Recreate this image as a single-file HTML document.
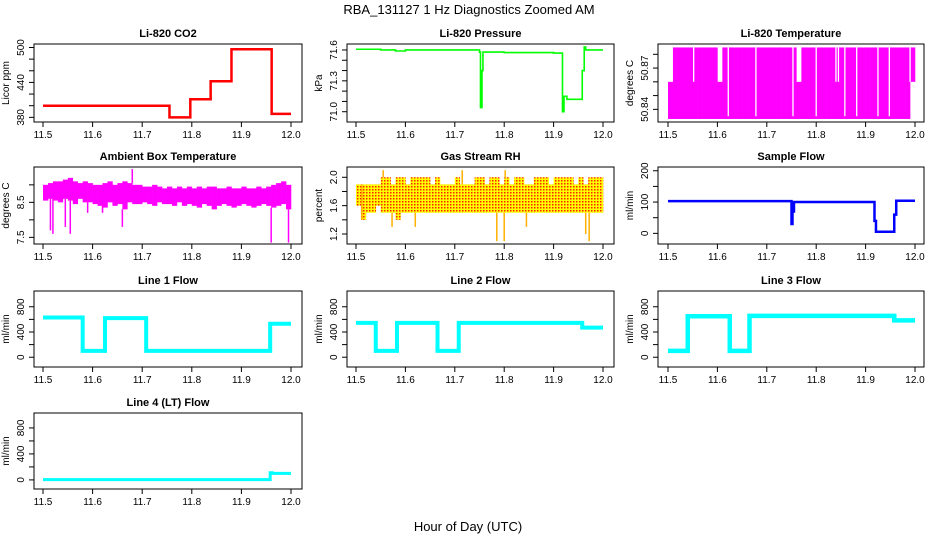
<!DOCTYPE html>
<html><head><meta charset="utf-8"><title>RBA_131127 1 Hz Diagnostics Zoomed AM</title>
<style>
html,body{margin:0;padding:0;background:#fff;}
svg{display:block;font-family:"Liberation Sans",Arial,sans-serif;}
</style></head>
<body>
<svg id="chart" width="936" height="540" viewBox="0 0 936 540" xmlns="http://www.w3.org/2000/svg">
<defs>
<pattern id="rhdots" width="3" height="3" patternUnits="userSpaceOnUse">
<rect width="3" height="3" fill="#ffff00"/>
<rect x="0" y="0" width="1.5" height="1.5" fill="#ff2000"/>
</pattern>
</defs>
<text x="469" y="14" font-size="13" text-anchor="middle">RBA_131127  1 Hz Diagnostics Zoomed AM</text>
<text x="468" y="531" font-size="13" text-anchor="middle">Hour of Day (UTC)</text>
</svg>
<script>
// ---------------- DATA ----------------
const xTicks = [11.5, 11.6, 11.7, 11.8, 11.9, 12.0];
const xTickLabels = ["11.5", "11.6", "11.7", "11.8", "11.9", "12.0"];

// Li-820 CO2 (step segments)
const co2Times = [11.5, 11.755, 11.797, 11.838, 11.880, 11.961, 12.0];
const co2Values = [400, 380, 411, 442, 497, 386];

// Li-820 Pressure (step segments)
const presTimes = [11.5, 11.55, 11.58, 11.6, 11.68, 11.75, 11.752, 11.755, 11.757, 11.76, 11.80, 11.90, 11.918, 11.921, 11.927, 11.958, 11.962, 11.965, 12.0];
const presValues = [71.607, 71.60, 71.59, 71.60, 71.60, 71.58, 71.04, 71.40, 71.58, 71.58, 71.575, 71.57, 71.00, 71.15, 71.12, 71.40, 71.63, 71.60];

// Li-820 Temperature (bins)
const ltHi = [50.86,50.885,50.885,50.885,50.885,50.885,50.885,50.885,50.885,50.885,50.86,50.885,50.885,50.885,50.885,50.885,50.885,50.885,50.885,50.885,50.885,50.885,50.885,50.885,50.885,50.885,50.86,50.885,50.885,50.885,50.885,50.885,50.885,50.885,50.885,50.885,50.885,50.885,50.885,50.885,50.885,50.885,50.885,50.885,50.885,50.885,50.885,50.885,50.885,50.885];
const ltLo = [50.833,50.833,50.833,50.833,50.833,50.833,50.833,50.833,50.833,50.833,50.833,50.833,50.833,50.833,50.833,50.833,50.833,50.833,50.833,50.833,50.833,50.833,50.833,50.833,50.833,50.833,50.833,50.833,50.833,50.833,50.833,50.833,50.833,50.833,50.833,50.833,50.833,50.833,50.833,50.833,50.833,50.833,50.833,50.833,50.833,50.833,50.833,50.833,50.833,50.86];
const ltGapTimes = [11.505,11.552,11.56,11.565,11.575,11.59,11.60,11.622,11.635,11.645,11.66,11.678,11.69,11.70,11.72,11.735,11.753,11.762,11.77,11.785,11.80,11.805,11.815,11.828,11.84,11.845,11.858,11.87,11.882,11.895,11.91,11.925,11.935,11.948,11.958,11.965,11.975,11.99];
const ltGapTop = [50.885,50.86,50.885,50.885,50.885,50.885,50.885,50.835,50.885,50.885,50.885,50.835,50.885,50.885,50.885,50.885,50.835,50.86,50.885,50.885,50.835,50.885,50.885,50.885,50.86,50.86,50.835,50.885,50.835,50.885,50.885,50.835,50.885,50.835,50.885,50.885,50.885,50.86];

// Ambient Box Temperature (bins)
const ambHi = [9.0,9.05,9.1,9.1,9.15,9.2,9.1,9.05,9.1,9.05,9.0,9.0,9.05,9.1,9.0,9.05,9.1,9.05,9.0,9.0,8.95,8.95,9.0,8.95,8.9,8.95,8.9,8.95,8.9,8.95,8.9,8.95,8.9,8.95,8.95,8.9,8.9,8.95,8.9,8.9,8.95,8.9,8.9,8.95,8.9,8.95,9.0,9.05,9.1,9.0];
const ambLo = [8.55,8.6,8.55,8.5,8.6,8.55,8.45,8.6,8.5,8.5,8.45,8.4,8.35,8.5,8.4,8.45,8.3,8.5,8.45,8.45,8.5,8.45,8.4,8.5,8.45,8.45,8.4,8.5,8.4,8.45,8.4,8.35,8.45,8.4,8.3,8.4,8.45,8.4,8.35,8.4,8.45,8.4,8.35,8.4,8.45,8.4,8.35,8.4,8.45,8.3];
const ambSpikeTimes = [11.515, 11.52, 11.545, 11.555, 11.59, 11.62, 11.66, 11.68, 11.96, 11.995];
const ambSpikeValues = [7.7, 7.6, 7.8, 7.6, 8.2, 8.2, 7.8, 9.45, 7.35, 7.35];

// Gas Stream RH (bins)
const rhHi = [1.9,1.9,1.9,1.9,1.9,2.0,2.0,1.9,2.0,2.0,1.9,2.0,2.0,2.0,2.0,1.9,2.0,1.9,1.9,1.9,2.0,1.9,1.9,1.9,2.0,2.0,1.9,2.0,2.0,1.9,2.0,1.9,2.0,2.0,1.9,1.9,2.0,2.0,2.0,1.9,2.0,2.0,2.0,2.0,1.9,2.0,1.9,2.0,2.0,2.0];
const rhLo = [1.6,1.4,1.5,1.5,1.6,1.5,1.5,1.5,1.4,1.5,1.5,1.5,1.5,1.5,1.5,1.5,1.5,1.5,1.5,1.5,1.5,1.5,1.5,1.5,1.5,1.5,1.5,1.5,1.5,1.5,1.5,1.5,1.5,1.5,1.5,1.5,1.5,1.5,1.5,1.5,1.5,1.5,1.5,1.5,1.5,1.5,1.5,1.5,1.5,1.5];
const rhSpikeTimes = [11.512, 11.555, 11.573, 11.62, 11.715, 11.785, 11.80, 11.802, 11.845, 11.965, 11.972];
const rhSpikeValues = [1.4, 2.1, 1.3, 1.3, 2.1, 1.1, 1.1, 2.1, 1.3, 1.2, 1.1];

// Sample Flow (step segments)
const sfTimes = [11.5, 11.75, 11.752, 11.755, 11.918, 11.921, 11.958, 11.962, 12.0];
const sfValues = [103, 30, 70, 100, 40, 5, 60, 104];

// Line flows (step segments)
const l1Times = [11.5, 11.58, 11.625, 11.708, 11.958, 12.0];
const l1Values = [630, 100, 620, 100, 530];
const l2Times = [11.5, 11.54, 11.583, 11.665, 11.708, 11.958, 12.0];
const l2Values = [545, 100, 545, 100, 545, 470];
const l3Times = [11.5, 11.54, 11.625, 11.665, 11.958, 12.0];
const l3Values = [100, 650, 100, 655, 585];
const l4Times = [11.5, 11.958, 11.962, 12.0];
const l4Values = [5, 110, 100];

// ---------------- DRAWING ----------------
const NS = "http://www.w3.org/2000/svg";
const svg = document.getElementById("chart");
function mk(tag, attrs, parent) {
  const e = document.createElementNS(NS, tag);
  for (const k in attrs) e.setAttribute(k, attrs[k]);
  (parent || svg).appendChild(e);
  return e;
}
const cols = [{x0: 34, x1: 302, a: 43, b: 291}, {x0: 347, x1: 614, a: 356, b: 603}, {x0: 658, x1: 924, a: 668, b: 915}];
const rows = [{y0: 44, y1: 122}, {y0: 167, y1: 244}, {y0: 291, y1: 367}, {y0: 413, y1: 489}];

function panel(name, title, ytitle, c, r, dom, yticks, ylabels) {
  const C = cols[c], R = rows[r];
  const g = mk("g", {});
  
  
  const xs = t => C.a + (t - 11.5) / 0.5 * (C.b - C.a);
  const ys = v => R.y1 - (v - dom[0]) / (dom[1] - dom[0]) * (R.y1 - R.y0);
  const clipId = "clip-" + name;
  const cp = mk("clipPath", {id: clipId}, g);
  mk("rect", {x: C.x0, y: R.y0, width: C.x1 - C.x0, height: R.y1 - R.y0}, cp);
  const plot = mk("g", {"clip-path": "url(#" + clipId + ")"}, g);
  
  
  const t = mk("text", {x: (C.x0 + C.x1) / 2, y: R.y0 - 7, "font-size": 11, "font-weight": "bold", "text-anchor": "middle"}, g);
  t.textContent = title;
  
  
  const yt = mk("text", {x: 0, y: 0, "font-size": 10, "text-anchor": "middle", transform: "translate(" + (C.x0 - 25) + "," + ((R.y0 + R.y1) / 2) + ") rotate(-90)"}, g);
  yt.textContent = ytitle;
  
  
  xTicks.forEach((v, i) => {
    const x = xs(v);
    const tk = mk("line", {x1: x, x2: x, y1: R.y1, y2: R.y1 + 5, stroke: "#000"}, g);
    
    
    const lb = mk("text", {x: x, y: R.y1 + 16, "font-size": 10, "text-anchor": "middle"}, g);
    lb.textContent = xTickLabels[i];
    
    
  });
  yticks.forEach(v => {
    const y = ys(v);
    const tk = mk("line", {x1: C.x0 - 5, x2: C.x0, y1: y, y2: y, stroke: "#000"}, g);
    
    
  });
  ylabels.forEach(([v, s]) => {
    const y = ys(v);
    const lb = mk("text", {x: 0, y: 0, "font-size": 10, "text-anchor": "middle", transform: "translate(" + (C.x0 - 10) + "," + y + ") rotate(-90)"}, g);
    lb.textContent = s;
    
    
  });
  const box = mk("rect", {x: C.x0, y: R.y0, width: C.x1 - C.x0, height: R.y1 - R.y0, fill: "none", stroke: "#000"}, g);
  
  
  return {xs, ys, plot, g};
}

function stepLine(P, times, vals, color, w, name) {
  let d = "";
  for (let i = 0; i < vals.length; i++) {
    const x0 = P.xs(times[i]), x1 = P.xs(times[i + 1]), y = P.ys(vals[i]);
    d += (i === 0 ? "M" : "L") + x0 + "," + y + "L" + x1 + "," + y;
  }
  const p = mk("path", {d: d, fill: "none", stroke: color, "stroke-width": w, "stroke-linejoin": "miter"}, P.plot);
  
  
}
function bands(P, lo, hi, fill, name) {
  const n = lo.length;
  for (let i = 0; i < n; i++) {
    const x0 = P.xs(11.5 + i * 0.5 / n), x1 = P.xs(11.5 + (i + 1) * 0.5 / n);
    const r = mk("rect", {x: x0, y: P.ys(hi[i]), width: x1 - x0 + 0.3, height: P.ys(lo[i]) - P.ys(hi[i]), fill: fill}, P.plot);
    
    
  }
}
function spikes(P, times, vals, lo, hi, color, w, name) {
  const n = lo.length;
  times.forEach((t, i) => {
    const b = Math.min(n - 1, Math.floor((t - 11.5) / 0.5 * n));
    const base = vals[i] < lo[b] ? lo[b] : hi[b];
    const x = P.xs(t);
    const l = mk("line", {x1: x, x2: x, y1: P.ys(base), y2: P.ys(vals[i]), stroke: color, "stroke-width": w}, P.plot);
    
    
  });
}

const pCo2 = panel("co2", "Li-820 CO2", "Licor ppm", 0, 0, [372, 506], [380, 400, 420, 440, 460, 480, 500], [[380, "380"], [440, "440"], [500, "500"]]);
stepLine(pCo2, co2Times, co2Values, "#ff0000", 2.5, "co2-line");

const pPres = panel("pressure", "Li-820 Pressure", "kPa", 1, 0, [70.9, 71.658], [71.0, 71.1, 71.2, 71.3, 71.4, 71.5, 71.6], [[71.0, "71.0"], [71.3, "71.3"], [71.6, "71.6"]]);
stepLine(pPres, presTimes, presValues, "#00ff00", 1.6, "pressure-line");

const pLt = panel("li-temperature", "Li-820 Temperature", "degrees C", 2, 0, [50.8308, 50.8875], [50.84, 50.85, 50.86, 50.87, 50.88], [[50.84, "50.84"], [50.87, "50.87"]]);
bands(pLt, ltLo, ltHi, "#ff00ff", "li-temperature-band");
ltGapTimes.forEach((t, i) => {
  const x = pLt.xs(t);
  const l = mk("line", {x1: x, x2: x, y1: pLt.ys(50.8875), y2: pLt.ys(ltGapTop[i]), stroke: "#fff", "stroke-width": 1.3}, pLt.plot);
  
  
});

const pAmb = panel("ambient-temperature", "Ambient Box Temperature", "degrees C", 0, 1, [7.31, 9.51], [7.5, 8.0, 8.5, 9.0], [[7.5, "7.5"], [8.5, "8.5"]]);
bands(pAmb, ambLo, ambHi, "#ff00ff", "ambient-temperature-band");
spikes(pAmb, ambSpikeTimes, ambSpikeValues, ambLo, ambHi, "#ff00ff", 1.5, "ambient-temperature-spike");

const pRh = panel("gas-rh", "Gas Stream RH", "percent", 1, 1, [1.059, 2.145], [1.2, 1.4, 1.6, 1.8, 2.0], [[1.2, "1.2"], [1.6, "1.6"], [2.0, "2.0"]]);
bands(pRh, rhLo, rhHi, "url(#rhdots)", "gas-rh-band");
spikes(pRh, rhSpikeTimes, rhSpikeValues, rhLo, rhHi, "#ffb000", 1.5, "gas-rh-spike");

const pSf = panel("sample-flow", "Sample Flow", "ml/min", 2, 1, [-34, 212], [0, 50, 100, 150, 200], [[0, "0"], [100, "100"], [200, "200"]]);
stepLine(pSf, sfTimes, sfValues, "#0000ff", 2.5, "sample-flow-line");

const flowTicks = [0, 200, 400, 600, 800];
const flowLabels = [[0, "0"], [400, "400"], [800, "800"]];
const pL1 = panel("line1-flow", "Line 1 Flow", "ml/min", 0, 2, [-155, 1050], flowTicks, flowLabels);
stepLine(pL1, l1Times, l1Values, "#00ffff", 4, "line1-flow-line");
const pL2 = panel("line2-flow", "Line 2 Flow", "ml/min", 1, 2, [-155, 1050], flowTicks, flowLabels);
stepLine(pL2, l2Times, l2Values, "#00ffff", 4, "line2-flow-line");
const pL3 = panel("line3-flow", "Line 3 Flow", "ml/min", 2, 2, [-155, 1050], flowTicks, flowLabels);
stepLine(pL3, l3Times, l3Values, "#00ffff", 4.5, "line3-flow-line");
const pL4 = panel("line4-flow", "Line 4 (LT) Flow", "ml/min", 0, 3, [-140, 1030], flowTicks, flowLabels);
stepLine(pL4, l4Times, l4Values, "#00ffff", 3, "line4-flow-line");
</script>
</body></html>
